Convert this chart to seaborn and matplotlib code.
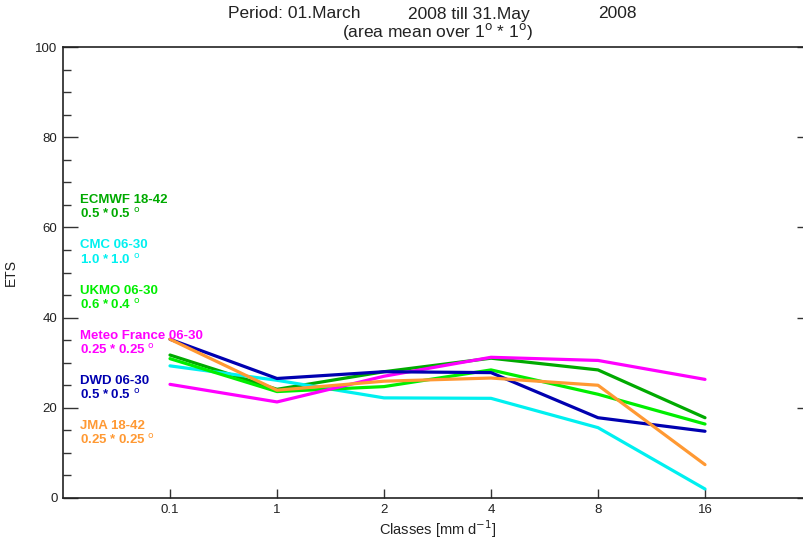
import matplotlib
matplotlib.use("Agg")
import matplotlib.pyplot as plt
import seaborn as sns
import pandas as pd
import numpy as np

classes = ["0.1", "1", "2", "4", "8", "16"]
models = ["ECMWF 18-42", "CMC 06-30", "UKMO 06-30", "Meteo France 06-30", "DWD 06-30", "JMA 18-42"]
resolutions = ["0.5 * 0.5", "1.0 * 1.0", "0.6 * 0.4", "0.25 * 0.25", "0.5 * 0.5", "0.25 * 0.25"]
ecmwf = [31.7, 24.1, 28.0, 31.0, 28.4, 17.8]
cmc = [29.3, 26.1, 22.2, 22.1, 15.6, 2.0]
ukmo = [30.9, 23.6, 24.7, 28.4, 23.0, 16.4]
meteofrance = [25.2, 21.3, 27.0, 31.2, 30.5, 26.3]
dwd = [35.2, 26.5, 28.0, 27.8, 17.8, 14.8]
jma = [35.2, 23.9, 25.9, 26.6, 25.0, 7.4]
colors = ["#00AA00", "#00F0F0", "#00EE00", "#FF00FF", "#0000B0", "#FF9933"]

series = [ecmwf, cmc, ukmo, meteofrance, dwd, jma]
rows = []
for m, vals in zip(models, series):
    for i, v in enumerate(vals):
        rows.append({"model": m, "pos": i, "ETS": v})
df = pd.DataFrame(rows)

sns.set_style("ticks")
plt.rcParams["font.family"] = ["Liberation Sans", "DejaVu Sans"]

fig = plt.figure(figsize=(8.04, 5.40), dpi=100)
L, R, T, B = 63, 812, 47, 498
ax = fig.add_axes([L / 804, 1 - B / 540, (R - L) / 804, (B - T) / 540])

sns.lineplot(data=df, x="pos", y="ETS", hue="model", hue_order=models,
             palette=colors, linewidth=2.3, legend=False, ax=ax, sort=False)

ax.set_xlim(-1, 6)
ax.set_ylim(0, 100)
ax.set_xticks(range(len(classes)))
ax.set_xticklabels(classes, fontsize=9.5)
ax.set_yticks([0, 20, 40, 60, 80, 100])
ax.set_yticks(np.arange(0, 101, 5), minor=True)
ax.tick_params(axis="y", which="major", direction="in", length=11, width=1, labelsize=9.5,
               right=True, colors="#333333", labelcolor="#222222", pad=4)
ax.tick_params(axis="y", which="minor", direction="in", length=5.5, width=1, colors="#333333")
ax.tick_params(axis="x", which="major", direction="in", length=6.5, width=1, colors="#333333",
               labelcolor="#222222", pad=4.5)
for s in ax.spines.values():
    s.set_color("#222222")
    s.set_linewidth(1.2)

ax.set_xlabel("Classes [mm d$^{-1}$]", fontsize=10.5, color="#222222")
ax.set_ylabel("ETS", fontsize=10, color="#222222")
ax.xaxis.set_label_coords((438 - L) / (R - L), -(518 - B) / (B - T))
ax.yaxis.set_label_coords(-(L - 18) / (R - L), (B - 272) / (B - T))

fs_t = 12.5
fig.text(228 / 804, 1 - 14 / 540, "Period: 01.March", ha="left", va="center",
         fontsize=fs_t, color="#222222")
fig.text(408 / 804, 1 - 14 / 540, "2008 till 31.May", ha="left", va="center",
         fontsize=fs_t, color="#222222")
fig.text(598 / 804, 1 - 14 / 540, "2008", ha="left", va="center",
         fontsize=fs_t, color="#222222")
fig.text(438 / 804, 1 - 32 / 540, "(area mean over 1$^{\\rm o}$ * 1$^{\\rm o}$)",
         ha="center", va="center", fontsize=fs_t, color="#222222")

for k, (m, res, c) in enumerate(zip(models, resolutions, colors)):
    y0 = 66 - 10 * k
    ax.text(-0.84, y0, m, color=c, fontsize=9.5, fontweight="bold", va="center", ha="left")
    ax.text(-0.84, y0 - 3.1, res + " $^{\\rm o}$", color=c, fontsize=9.5, fontweight="bold",
            va="center", ha="left")

fig.savefig("out.png", dpi=100)
